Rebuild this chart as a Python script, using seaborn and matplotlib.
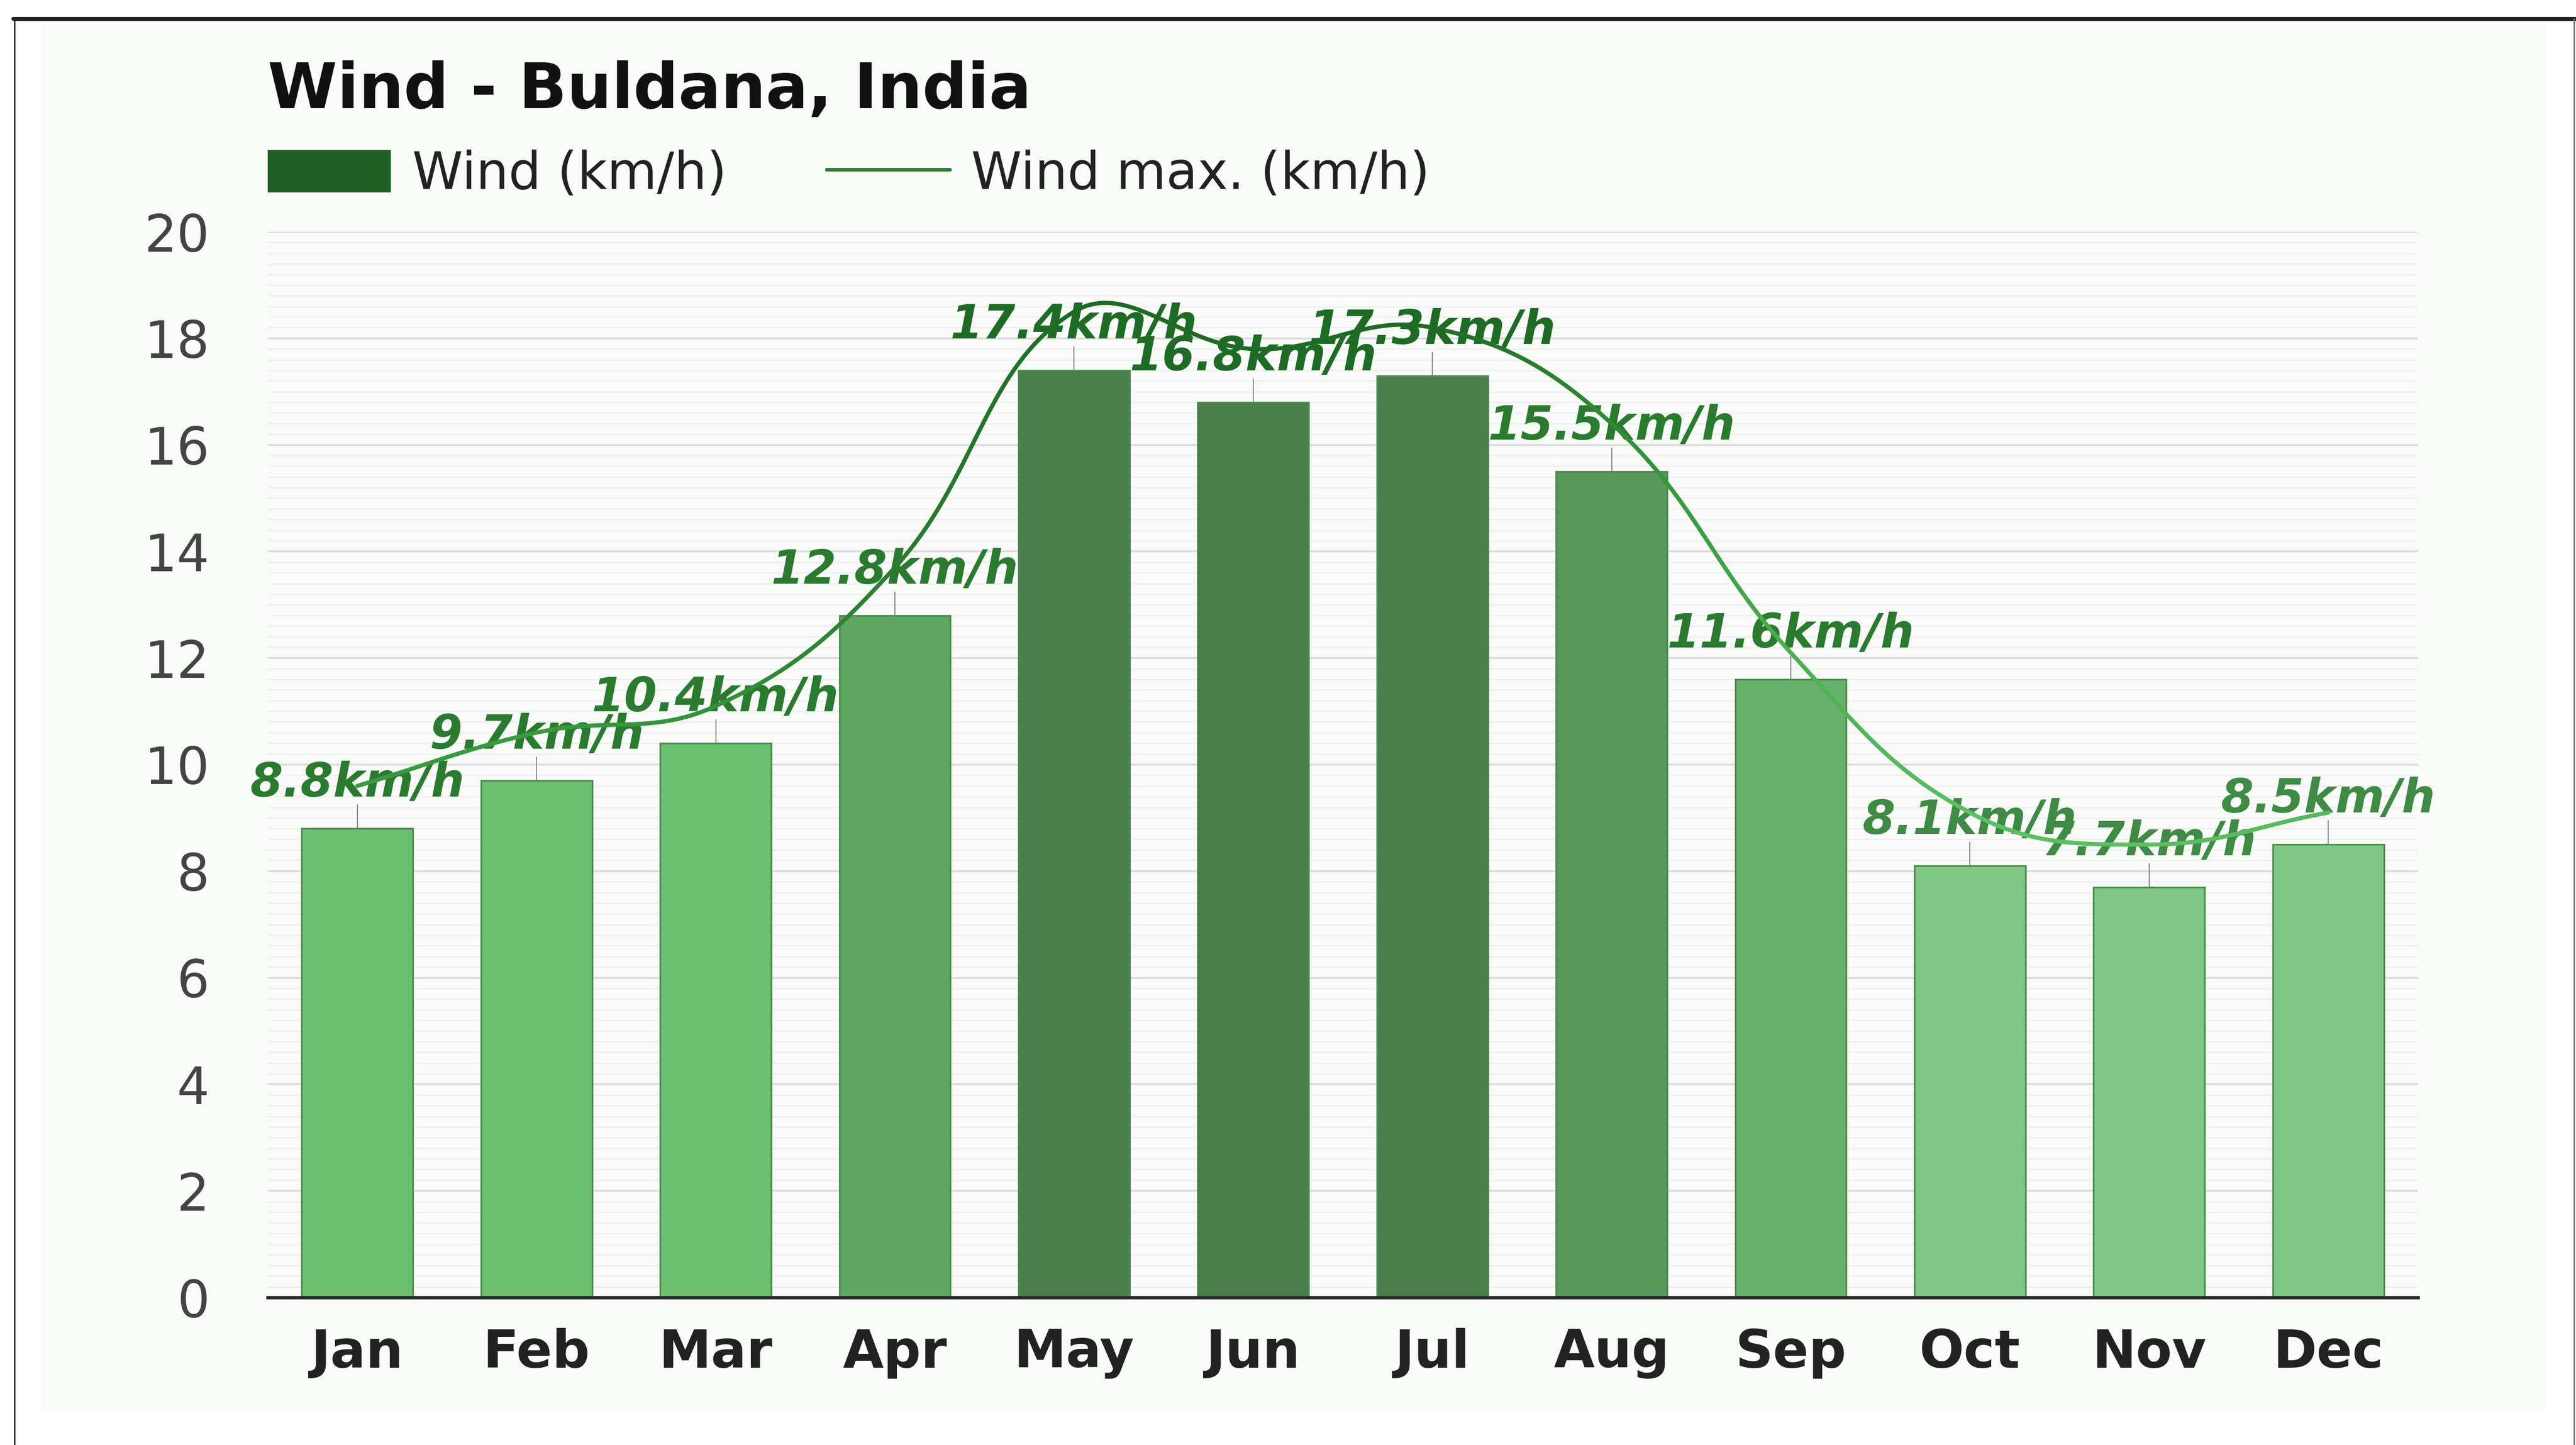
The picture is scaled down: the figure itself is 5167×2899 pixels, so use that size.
import numpy as np
import matplotlib
matplotlib.use("Agg")
import matplotlib.pyplot as plt
import seaborn as sns
from matplotlib.patches import Patch, Rectangle
from matplotlib.lines import Line2D
from matplotlib.collections import LineCollection
from matplotlib.ticker import MultipleLocator

# data
months = ["Jan", "Feb", "Mar", "Apr", "May", "Jun", "Jul", "Aug", "Sep", "Oct", "Nov", "Dec"]
wind = [8.8, 9.7, 10.4, 12.8, 17.4, 16.8, 17.3, 15.5, 11.6, 8.1, 7.7, 8.5]
wind_max = [9.6, 10.6, 11.1, 13.7, 18.5, 17.8, 18.2, 16.4, 12.1, 9.1, 8.5, 9.1]
value_labels = [f"{v}km/h" for v in wind]
y_ticks = list(range(0, 21, 2))

# styling
bar_colors = ["#6dbf70", "#6dbf70", "#6dbf70", "#5fa661", "#4a7f4b", "#4a7f4b",
              "#4a7f4b", "#58985b", "#67b26a", "#80c785", "#80c785", "#80c785"]
label_colors = ["#2a7a2f", "#2a7a2f", "#2a7a2f", "#2a7a2f", "#1e6b25", "#1e6b25",
                "#1e6b25", "#2a7a2f", "#2a7a2f", "#3f8a45", "#3f8a45", "#3f8a45"]
line_colors = ["#3a9a40", "#3a9a40", "#34913a", "#2a7d30", "#1e6b25", "#1e6b25",
               "#1e6b25", "#2f8a35", "#4caf50", "#5cbf62", "#5cbf62", "#55b85b"]

W, H, DPI = 5167, 2899, 200


def smooth_path(xs, ys, tension=0.4, sx=359.2, sy=106.9, n=60):
    # bezier curve through the points, control points as in chart.js
    px = np.asarray(xs, float) * sx
    py = np.asarray(ys, float) * sy
    N = len(px)
    cp_prev, cp_next = [], []
    for i in range(N):
        a = max(i - 1, 0)
        b = min(i + 1, N - 1)
        d01 = np.hypot(px[i] - px[a], py[i] - py[a])
        d12 = np.hypot(px[b] - px[i], py[b] - py[i])
        tot = d01 + d12
        fa = tension * d01 / tot if tot else 0
        fb = tension * d12 / tot if tot else 0
        cp_prev.append((px[i] - fa * (px[b] - px[a]), py[i] - fa * (py[b] - py[a])))
        cp_next.append((px[i] + fb * (px[b] - px[a]), py[i] + fb * (py[b] - py[a])))
    out_x, out_y = [], []
    t = np.linspace(0, 1, n)
    for i in range(N - 1):
        p0 = np.array([px[i], py[i]])
        p1 = np.array(cp_next[i])
        p2 = np.array(cp_prev[i + 1])
        p3 = np.array([px[i + 1], py[i + 1]])
        seg = ((1 - t) ** 3)[:, None] * p0 + (3 * (1 - t) ** 2 * t)[:, None] * p1 \
            + (3 * (1 - t) * t ** 2)[:, None] * p2 + (t ** 3)[:, None] * p3
        if i > 0:
            seg = seg[1:]
        out_x.extend(seg[:, 0])
        out_y.extend(seg[:, 1])
    return np.array(out_x) / sx, np.array(out_y) / sy


sns.set_style("white")
plt.rcParams["font.family"] = ["DejaVu Sans"]

fig = plt.figure(figsize=(W / DPI, H / DPI), dpi=DPI)
fig.patch.set_facecolor("white")

# light panel and frame lines
fig.add_artist(Rectangle((82 / W, 1 - 2832 / H), (5106 - 82) / W, (2832 - 47) / H,
                         transform=fig.transFigure, facecolor="#f9fbf9", edgecolor="none", zorder=0))
fig.add_artist(Line2D([27 / W, 1], [1 - 38 / H, 1 - 38 / H], transform=fig.transFigure,
                      color="#222222", lw=2.9))
fig.add_artist(Line2D([29 / W, 29 / W], [0, 1 - 38 / H], transform=fig.transFigure,
                      color="#333333", lw=1.1))
fig.add_artist(Line2D([5163 / W, 5163 / W], [0, 1 - 38 / H], transform=fig.transFigure,
                      color="#777777", lw=1.1))

ax = fig.add_axes([537 / W, 1 - 2603 / H, 4313 / W, 2138 / H])
ax.set_facecolor("none")

sns.barplot(x=months, y=wind, hue=months, palette=bar_colors, legend=False,
            width=0.62, edgecolor="#4a8a4d", linewidth=1.2, saturation=1, ax=ax, zorder=2)

xpos = np.arange(len(months))

# small gray ticks above bars
ax.vlines(xpos, wind, np.array(wind) + 0.45, color="#8a8a8a", lw=0.8, zorder=2.5)

for x, v, lab, c in zip(xpos, wind, value_labels, label_colors):
    ax.annotate(lab, (x, v), xytext=(0, 23), textcoords="offset points",
                ha="center", va="baseline", fontsize=34, fontweight="bold",
                fontstyle="italic", color=c, zorder=3)

# smooth max line with color changing along x
lx, ly = smooth_path(xpos, wind_max)
pts = np.column_stack([lx, ly]).reshape(-1, 1, 2)
segs = np.concatenate([pts[:-1], pts[1:]], axis=1)
rgb = np.array([matplotlib.colors.to_rgb(c) for c in line_colors])
mid = (lx[:-1] + lx[1:]) / 2
seg_cols = np.column_stack([np.interp(mid, xpos, rgb[:, k]) for k in range(3)])
ax.add_collection(LineCollection(segs, colors=seg_cols, linewidths=3.0, zorder=4,
                                 capstyle="round", joinstyle="round"))

ax.set_xlim(-0.5, 11.5)
ax.set_ylim(0, 20)
ax.set_yticks(y_ticks)
ax.yaxis.set_minor_locator(MultipleLocator(0.2))
ax.grid(axis="y", which="major", color="#dcdcdc", lw=1.4, zorder=0)
ax.grid(axis="y", which="minor", color="#efefef", lw=1.0, zorder=0)
ax.set_axisbelow(True)
ax.set_xlabel("")
ax.set_ylabel("")

for s in ["top", "right", "left"]:
    ax.spines[s].set_visible(False)
ax.spines["bottom"].set_color("#2a2a2a")
ax.spines["bottom"].set_linewidth(2.4)
ax.spines["bottom"].set_zorder(5)

ax.tick_params(axis="y", which="both", length=0, pad=42, labelsize=37, labelcolor="#444444")
ax.tick_params(axis="x", length=0, pad=22, labelsize=38, labelcolor="#222222")
for t in ax.get_xticklabels():
    t.set_fontweight("bold")

fig.text(537 / W, 1 - 217 / H, "Wind - Buldana, India", fontsize=45.5, fontweight="bold",
         color="#111111", ha="left", va="baseline")

handles = [Patch(facecolor="#1f5f24", edgecolor="none"),
           Line2D([], [], color="#2e7d32", lw=2.6)]
fig.legend(handles, ["Wind (km/h)", "Wind max. (km/h)"], loc="upper left",
           bbox_to_anchor=(537 / W, 1 - 300 / H), ncol=2, frameon=False, fontsize=37,
           handlelength=2.4, handleheight=0.9, handletextpad=0.42, columnspacing=1.95,
           borderpad=0, borderaxespad=0, labelcolor="#222222")

fig.savefig("out.png", dpi=DPI, facecolor=fig.get_facecolor())
